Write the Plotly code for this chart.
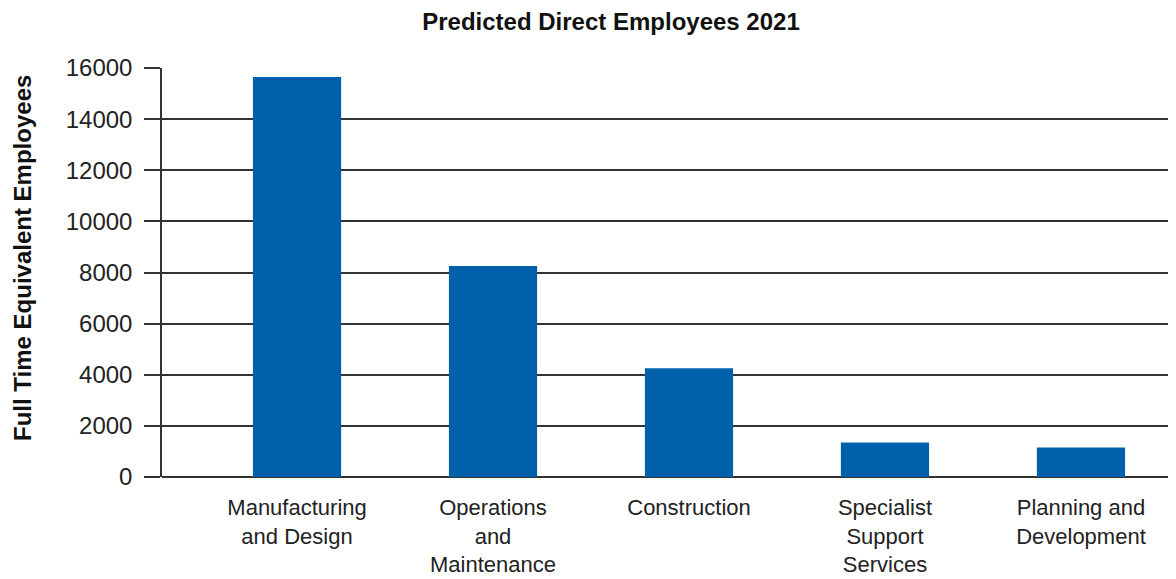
import plotly.graph_objects as go

categories = ["Manufacturing<br>and Design", "Operations<br>and<br>Maintenance", "Construction",
              "Specialist<br>Support<br>Services", "Planning and<br>Development"]
values = [15650, 8250, 4250, 1350, 1150]
y_ticks = [0, 2000, 4000, 6000, 8000, 10000, 12000, 14000, 16000]

fig = go.Figure()
fig.add_trace(go.Bar(x=list(range(len(categories))), y=values, marker=dict(color="#0061AA", line=dict(width=0)),
                     width=0.45))

font_family = "Liberation Sans, Arial, sans-serif"
W, H = 1168, 571
fig.update_layout(
    width=W, height=H,
    margin=dict(l=154, r=0, t=60, b=102, autoexpand=False),
    plot_bgcolor="white", paper_bgcolor="white",
    showlegend=False,
    font=dict(family=font_family, color="#222222"),
    title=dict(text="<b>Predicted Direct Employees 2021</b>", x=(611 - 8) / W, xanchor="center",
               y=1 - 14 / H, yanchor="middle", xref="container", yref="container",
               font=dict(size=24, color="#111111")),
)
fig.update_xaxes(
    tickmode="array", tickvals=list(range(len(categories))), ticktext=categories,
    range=[-0.689, 4.485], showgrid=False, showline=False, ticks="", automargin=False,
    tickfont=dict(size=22, color="#222222"), ticklabelstandoff=15,
)
fig.update_yaxes(
    range=[0, 16000], tickvals=y_ticks, tickformat="d", showgrid=True, gridcolor="#333333", gridwidth=1.5,
    zeroline=True, zerolinecolor="#333333", zerolinewidth=1.5, automargin=False,
    showline=True, linecolor="#333333", linewidth=1.5,
    ticks="outside", ticklen=16, tickcolor="#333333", tickwidth=1.5,
    tickfont=dict(size=24, color="#222222"), ticklabelstandoff=7,
)
fig.add_annotation(text="<b>Full Time Equivalent Employees</b>", xref="paper", yref="paper",
                   x=(22 - 162) / 1014, y=(477 - 258) / 409, xanchor="center", yanchor="middle",
                   textangle=-90, showarrow=False, font=dict(size=24, color="#111111"))

fig.write_html("out.html")
